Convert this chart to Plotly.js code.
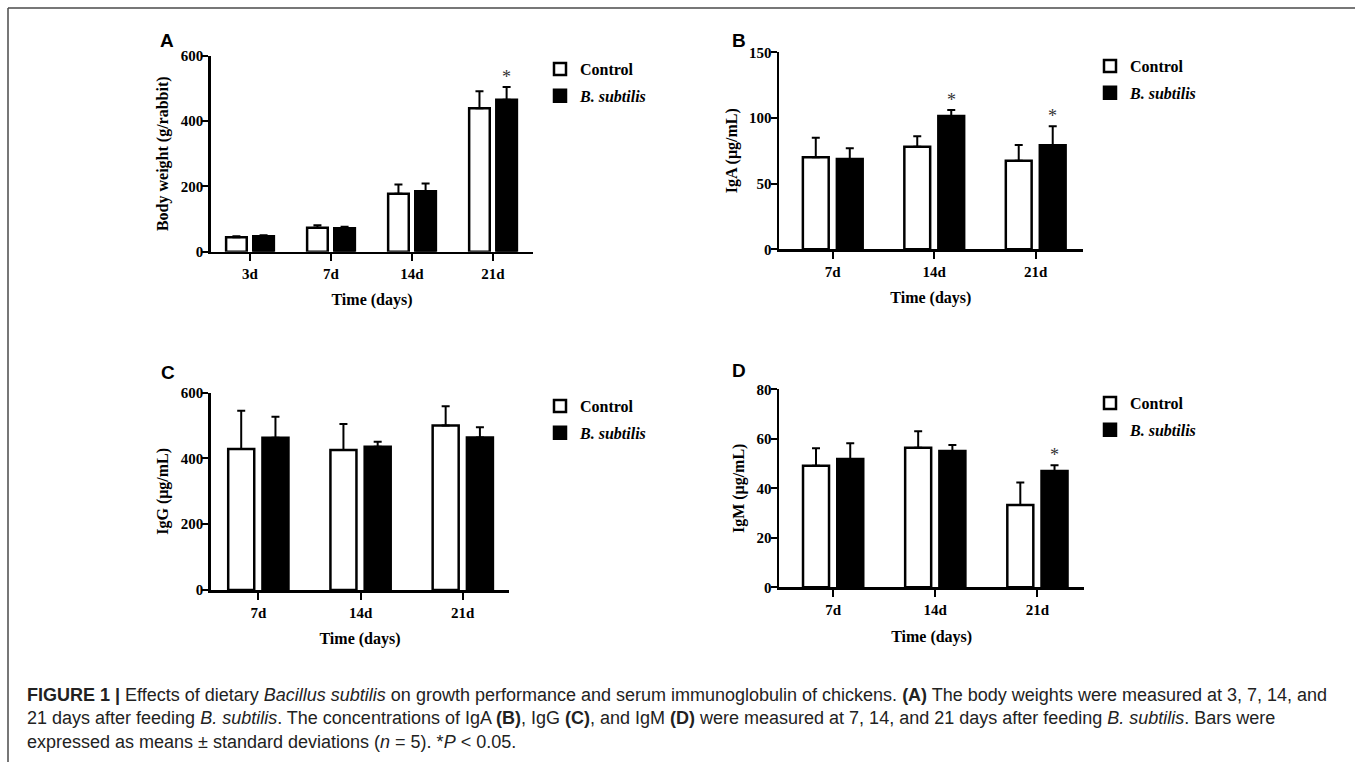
<!DOCTYPE html>
<html>
<head>
<meta charset="utf-8">
<script src="https://cdn.plot.ly/plotly-3.0.1.min.js"></script>
<style>
  html, body { margin: 0; padding: 0; background: #fff; }
  #chart { width: 1355px; height: 762px; }
</style>
</head>
<body>
<div id="chart"></div>
<script>
// ---------------- DATA ----------------
const daysA = ['3d', '7d', '14d', '21d'];
const weightControl = [44, 73.5, 177.5, 439];
const weightControlSD = [3, 7.5, 28.5, 52];
const weightBS = [47, 71.6, 185, 465];
const weightBSSD = [3, 5, 24, 39];
const weightSig = ['', '', '', '*'];

const daysIg = ['7d', '14d', '21d'];
const igaControl = [70, 78, 67.5];
const igaControlSD = [15, 8, 12];
const igaBS = [68.8, 101.5, 79.2];
const igaBSSD = [8.2, 4.5, 14.4];
const igaSig = ['', '*', '*'];

const iggControl = [429, 426, 500];
const iggControlSD = [116, 79, 59];
const iggBS = [463, 436, 464];
const iggBSSD = [64, 15, 31];
const iggSig = ['', '', ''];

const igmControl = [49.1, 56.4, 33.3];
const igmControlSD = [7.1, 6.6, 9];
const igmBS = [51.8, 55.1, 47];
const igmBSSD = [6.4, 2.4, 2.3];
const igmSig = ['', '', '*'];

const seriesNames = ['Control', '<i>B. subtilis</i>'];
const panelLetters = ['A', 'B', 'C', 'D'];
const yTitles = ['Body weight (g/rabbit)', 'IgA (μg/mL)', 'IgG (μg/mL)', 'IgM (μg/mL)'];
const xTitle = 'Time (days)';

// ---------------- LAYOUT GEOMETRY ----------------
const W = 1355, H = 762;
const SERIF = 'Liberation Serif, Times New Roman, serif';
const SANS = 'Liberation Sans, Arial, sans-serif';
const BARGAP = 0.33;

const panels = [
  {cats: daysA, c: weightControl, cs: weightControlSD, b: weightBS, bs: weightBSSD, sig: weightSig,
   px: [210.7, 533.3], py: [55.7, 251.7], yr: [0, 600], dt: 200, xr: [-0.485, 3.497],
   letter: [167, 40], legend: [540, 52], xs: 13},
  {cats: daysIg, c: igaControl, cs: igaControlSD, b: igaBS, bs: igaBSSD, sig: igaSig,
   px: [779, 1082.7], py: [52.3, 249.3], yr: [0, 150], dt: 50, xr: [-0.53, 2.463],
   letter: [739, 41], legend: [1090, 49], xs: 13},
  {cats: daysIg, c: iggControl, cs: iggControlSD, b: iggBS, bs: iggBSSD, sig: iggSig,
   px: [210.7, 509.3], py: [392.7, 590], yr: [0, 600], dt: 200, xr: [-0.466, 2.455],
   letter: [168, 372], legend: [540, 389], xs: 14},
  {cats: daysIg, c: igmControl, cs: igmControlSD, b: igmBS, bs: igmBSSD, sig: igmSig,
   px: [779, 1084.3], py: [389.3, 587.3], yr: [0, 80], dt: 20, xr: [-0.53, 2.459],
   letter: [739, 370.5], legend: [1090, 386], xs: 14}
];

const traces = [];
const annotations = [];
const layout = {
  width: W, height: H,
  margin: {l: 0, r: 0, t: 0, b: 0},
  paper_bgcolor: '#fff', plot_bgcolor: 'rgba(0,0,0,0)',
  barmode: 'group', bargap: BARGAP, bargroupgap: 0.24,
  showlegend: true,
  annotations: annotations,
  shapes: [
    {type: 'line', xref: 'paper', yref: 'paper', x0: 8 / W, x1: 1, y0: 1 - 8 / H, y1: 1 - 8 / H,
     line: {color: '#4a4a4a', width: 1.5}},
    {type: 'line', xref: 'paper', yref: 'paper', x0: 8 / W, x1: 8 / W, y0: 0, y1: 1 - 8 / H,
     line: {color: '#4a4a4a', width: 1.5}}
  ]
};

const tickFont = {family: SERIF, size: 15, color: '#000', weight: 'bold'};
const titleFont = {family: SERIF, size: 16, color: '#000', weight: 'bold'};

panels.forEach((p, i) => {
  const n = i + 1;
  const xa = n === 1 ? 'x' : 'x' + n;
  const ya = n === 1 ? 'y' : 'y' + n;
  const lg = n === 1 ? 'legend' : 'legend' + n;

  traces.push({
    type: 'bar', x: p.cats, y: p.c, name: seriesNames[0], xaxis: xa, yaxis: ya, legend: lg,
    legendgroup: 'c' + n,
    marker: {color: '#ffffff', line: {color: '#000', width: 2.5}},
    error_y: {type: 'data', symmetric: false, array: p.cs, arrayminus: p.cs.map(() => 0),
              color: '#000', thickness: 2, width: 4},
    hoverinfo: 'skip'
  });
  traces.push({
    type: 'bar', x: p.cats, y: p.b, name: seriesNames[1], xaxis: xa, yaxis: ya, legend: lg,
    legendgroup: 'b' + n,
    marker: {color: '#000000', line: {color: '#000', width: 2.5}},
    error_y: {type: 'data', symmetric: false, array: p.bs, arrayminus: p.bs.map(() => 0),
              color: '#000', thickness: 2, width: 4},
    hoverinfo: 'skip'
  });

  const ticks = [];
  for (let v = p.yr[0]; v <= p.yr[1]; v += p.dt) ticks.push(v);

  layout['xaxis' + (n === 1 ? '' : n)] = {
    domain: [p.px[0] / W, p.px[1] / W], anchor: ya, type: 'category', range: p.xr,
    showline: true, linecolor: '#000', linewidth: 2.5, showgrid: false, zeroline: false,
    ticks: 'outside', ticklen: 7, tickwidth: 2, tickcolor: '#000',
    tickfont: tickFont, fixedrange: true,
    title: {text: xTitle, font: titleFont, standoff: p.xs}
  };
  layout['yaxis' + (n === 1 ? '' : n)] = {
    domain: [1 - p.py[1] / H, 1 - p.py[0] / H], anchor: xa, range: p.yr,
    tickmode: 'array', tickvals: ticks,
    showline: true, linecolor: '#000', linewidth: 2.5, showgrid: false, zeroline: false,
    ticks: 'outside', ticklen: 6, tickwidth: 2, tickcolor: '#000', ticklabelstandoff: -4,
    tickfont: tickFont, fixedrange: true,
    title: {text: yTitles[i], font: titleFont, standoff: 8}
  };
  layout[lg] = {
    x: p.legend[0] / W, y: 1 - p.legend[1] / H, xanchor: 'left', yanchor: 'top',
    bgcolor: 'rgba(0,0,0,0)', borderwidth: 0, traceorder: 'grouped', tracegroupgap: 3,
    font: {family: SERIF, size: 16, color: '#000', weight: 'bold'}, itemwidth: 30
  };

  annotations.push({
    xref: 'paper', yref: 'paper', x: p.letter[0] / W, y: 1 - p.letter[1] / H,
    xanchor: 'center', yanchor: 'middle', showarrow: false,
    text: '<b>' + panelLetters[i] + '</b>', font: {family: SANS, size: 19, color: '#000'}
  });

  // significance asterisks above the B. subtilis error bars
  const spacingPx = (p.px[1] - p.px[0]) / (p.xr[1] - p.xr[0]);
  const shift = (1 - BARGAP) * spacingPx / 4;
  p.sig.forEach((s, k) => {
    if (!s) return;
    annotations.push({
      xref: xa, yref: ya, x: p.cats[k], y: p.b[k] + p.bs[k], xshift: shift, yshift: -2,
      xanchor: 'center', yanchor: 'bottom', showarrow: false, text: s,
      font: {family: SERIF, size: 18, color: '#333'}
    });
  });
});

// caption
annotations.push({
  xref: 'paper', yref: 'paper', x: 25 / W, y: 1 - 683 / H, xanchor: 'left', yanchor: 'top',
  align: 'left', showarrow: false,
  font: {family: SANS, size: 18, color: '#222'},
  text: '<b>FIGURE 1 |</b> Effects of dietary <i>Bacillus subtilis</i> on growth performance and serum immunoglobulin of chickens. <b>(A)</b> The body weights were measured at 3, 7, 14, and' +
        '<br>21 days after feeding <i>B. subtilis</i>. The concentrations of IgA <b>(B)</b>, IgG <b>(C)</b>, and IgM <b>(D)</b> were measured at 7, 14, and 21 days after feeding <i>B. subtilis</i>. Bars were' +
        '<br>expressed as means ± standard deviations (<i>n</i> = 5). *<i>P</i> < 0.05.'
});

Plotly.newPlot('chart', traces, layout, {staticPlot: true, displayModeBar: false});
</script>
</body>
</html>
